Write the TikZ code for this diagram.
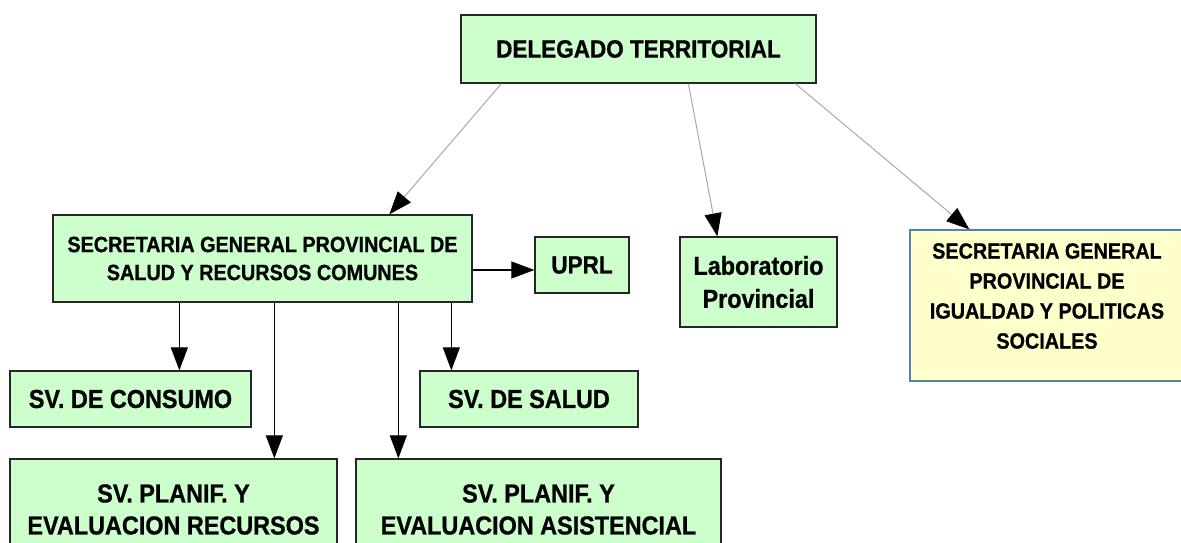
\documentclass[tikz,border=0pt]{standalone}
\usepackage{fontspec}
\newfontfamily\lab{Liberation Sans}[FakeStretch=0.9,FakeBold=0.8]
\usetikzlibrary{arrows.meta}
\definecolor{gfill}{HTML}{CCFFCC}
\definecolor{yfill}{HTML}{FFFFCC}
\definecolor{yborder}{HTML}{4F81BD}
\definecolor{gline}{HTML}{A8A8A8}
\tikzset{
  gbox/.style={draw=black!85, fill=gfill, line width=1.3pt, inner sep=0pt, align=center},
  ybox/.style={draw=yborder, fill=yfill, line width=1.3pt, inner sep=0pt, align=center},
  tipa/.style={-{Triangle[length=23pt,width=17pt,color=black]}},
  topline/.style={tipa, draw=gline, line width=1pt},
  botline/.style={tipa, draw=black, line width=1.2pt},
}
\begin{document}
\begin{tikzpicture}[x=1pt,y=-1pt]
\useasboundingbox (0,0) rectangle (1181,542);
\begin{scope}
\clip (0,0) rectangle (1181,542);
\node[gbox, minimum width=355, minimum height=68, font=\lab\bfseries\fontsize{25}{30}\selectfont] (del) at (638.5,49) {DELEGADO TERRITORIAL};
\node[gbox, minimum width=419, minimum height=87, font=\lab\bfseries\fontsize{22}{28}\selectfont] (sec) at (262.5,258.5) {SECRETARIA GENERAL PROVINCIAL DE\\SALUD Y RECURSOS COMUNES};
\node[gbox, minimum width=94, minimum height=56, font=\lab\bfseries\fontsize{25}{30}\selectfont] (uprl) at (582,265) {UPRL};
\node[gbox, minimum width=157, minimum height=90, font=\lab\bfseries\fontsize{26}{33}\selectfont] (lab) at (758.5,282) {Laboratorio\\Provincial};
\node[ybox, minimum width=280, minimum height=151] (ig) at (1050,305.5) {};
\node[align=center, inner sep=0pt, font=\lab\bfseries\fontsize{22}{30}\selectfont] (igt) at (1047,296) {SECRETARIA GENERAL\\PROVINCIAL DE\\IGUALDAD Y POLITICAS\\SOCIALES};
\node[gbox, minimum width=241, minimum height=56, font=\lab\bfseries\fontsize{26}{32}\selectfont] (cons) at (130.5,399) {SV. DE CONSUMO};
\node[gbox, minimum width=218, minimum height=56, font=\lab\bfseries\fontsize{26}{32}\selectfont] (salud) at (529,399) {SV. DE SALUD};
\node[gbox, minimum width=327, minimum height=101, font=\lab\bfseries\fontsize{26}{32}\selectfont] (rec) at (173.5,509.5) {SV. PLANIF. Y\\EVALUACION RECURSOS};
\node[gbox, minimum width=365, minimum height=101, font=\lab\bfseries\fontsize{26}{32}\selectfont] (asis) at (538.5,509.5) {SV. PLANIF. Y\\EVALUACION ASISTENCIAL};
% top connectors
\draw[topline] ([xshift=41pt]del.south west) -- ([xshift=337pt]sec.north west);
\draw[topline] ([xshift=228pt]del.south west) -- ([xshift=38pt]lab.north west);
\draw[topline] ([xshift=335pt]del.south west) -- ([xshift=60pt]ig.north west);
% UPRL
\coordinate (su) at ([yshift=-11.5pt]sec.east);
\draw[botline] (su) -- (su -| uprl.west);
% verticals
\coordinate (s1) at ([xshift=127pt]sec.south west);
\coordinate (s2) at ([xshift=222pt]sec.south west);
\coordinate (s3) at ([xshift=346pt]sec.south west);
\coordinate (s4) at ([xshift=399pt]sec.south west);
\draw[botline] (s1) -- (s1 |- cons.north);
\draw[botline] (s2) -- (s2 |- rec.north);
\draw[botline] (s3) -- (s3 |- asis.north);
\draw[botline] (s4) -- (s4 |- salud.north);
\end{scope}
\end{tikzpicture}
\end{document}
